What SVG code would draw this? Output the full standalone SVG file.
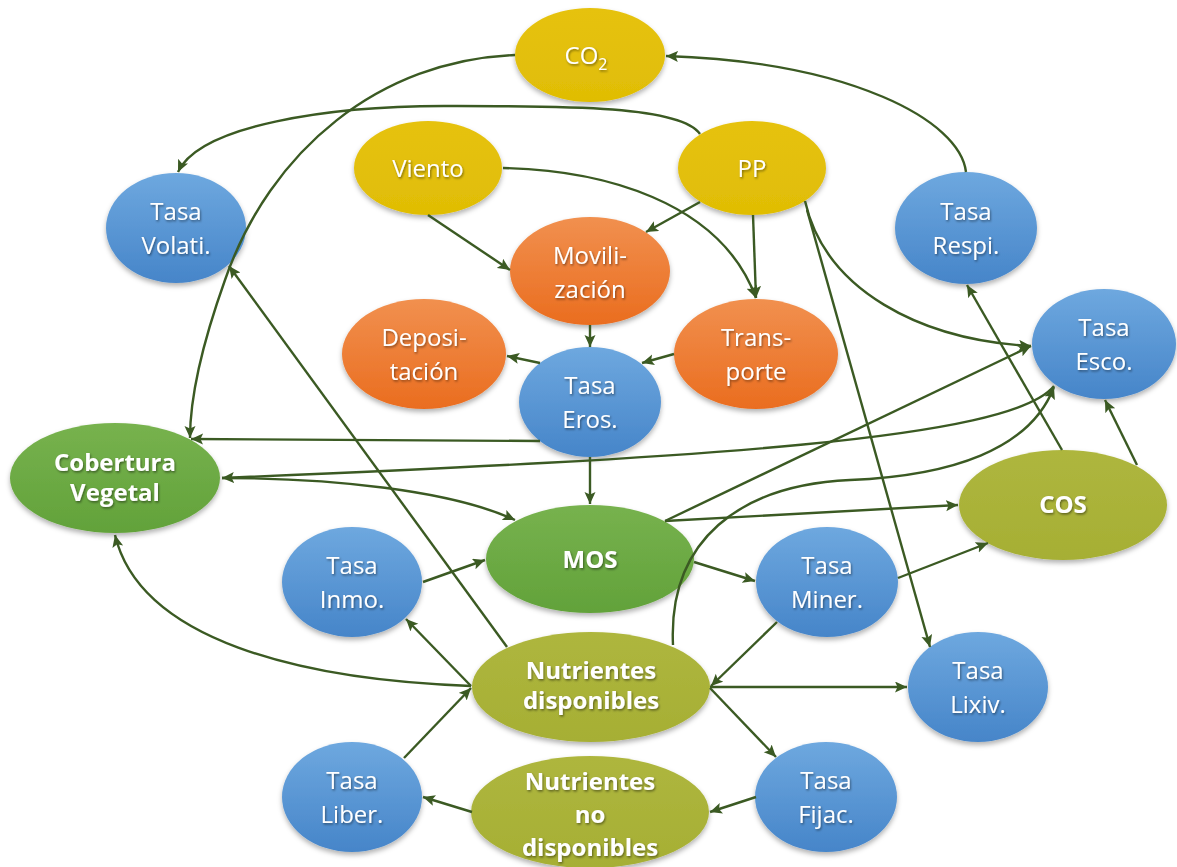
<svg xmlns="http://www.w3.org/2000/svg" width="1177" height="867" viewBox="0 0 1177 867">
<defs>
<style>
.edge{fill:none;stroke:#3b5a23;stroke-width:2.4;marker-end:url(#arr)}
.t{font-family:"Open Sans","Noto Sans",sans-serif;font-size:24px;fill:#ffffff;text-anchor:middle;filter:url(#ts)}
.b{font-weight:bold}
.n{filter:url(#sh)}
</style>
<linearGradient id="gBlue" x1="0" y1="0" x2="0" y2="1"><stop offset="0" stop-color="#6ea8df"/><stop offset="1" stop-color="#4685c9"/></linearGradient>
<linearGradient id="gOrange" x1="0" y1="0" x2="0" y2="1"><stop offset="0" stop-color="#f1904f"/><stop offset="1" stop-color="#ea6d1f"/></linearGradient>
<linearGradient id="gYellow" x1="0" y1="0" x2="0" y2="1"><stop offset="0" stop-color="#e6c20e"/><stop offset="1" stop-color="#e0bd05"/></linearGradient>
<linearGradient id="gGreen" x1="0" y1="0" x2="0" y2="1"><stop offset="0" stop-color="#77b24e"/><stop offset="1" stop-color="#62a23a"/></linearGradient>
<linearGradient id="gOlive" x1="0" y1="0" x2="0" y2="1"><stop offset="0" stop-color="#aeb63e"/><stop offset="1" stop-color="#a6af34"/></linearGradient>
<filter id="sh" x="-20%" y="-20%" width="140%" height="150%"><feDropShadow dx="0" dy="3" stdDeviation="2.5" flood-color="#000" flood-opacity="0.3"/></filter>
<filter id="ts" x="-10%" y="-30%" width="120%" height="160%"><feDropShadow dx="1" dy="1.5" stdDeviation="1" flood-color="#000" flood-opacity="0.45"/></filter>
<marker id="arr" markerUnits="userSpaceOnUse" markerWidth="15" markerHeight="12" refX="12" refY="5.5" orient="auto"><path d="M0,0 L12,5.5 L0,11 L2.5,5.5 z" fill="#3b5a23"/></marker>
</defs>
<rect width="1177" height="867" fill="#ffffff"/>

<g id="nodes">
<g id="co2"><ellipse class="n" cx="590" cy="55" rx="75" ry="47" fill="url(#gYellow)"/><text class="t" x="586" y="64">CO<tspan font-size="16" dy="6">2</tspan></text></g>
<g id="viento"><ellipse class="n" cx="428" cy="168" rx="74" ry="47" fill="url(#gYellow)"/><text class="t" x="428" y="177">Viento</text></g>
<g id="pp"><ellipse class="n" cx="752" cy="168" rx="74" ry="47" fill="url(#gYellow)"/><text class="t" x="752" y="177">PP</text></g>
<g id="volati"><ellipse class="n" cx="176" cy="228" rx="70" ry="55" fill="url(#gBlue)"/><text class="t" x="176" y="220">Tasa</text><text class="t" x="176" y="254">Volati.</text></g>
<g id="respi"><ellipse class="n" cx="966" cy="228" rx="71" ry="56" fill="url(#gBlue)"/><text class="t" x="966" y="220">Tasa</text><text class="t" x="966" y="254">Respi.</text></g>
<g id="movil"><ellipse class="n" cx="590" cy="271" rx="80" ry="54" fill="url(#gOrange)"/><text class="t" x="590" y="264">Movili-</text><text class="t" x="590" y="298">zación</text></g>
<g id="depos"><ellipse class="n" cx="424" cy="354" rx="82" ry="55" fill="url(#gOrange)"/><text class="t" x="424" y="346">Deposi-</text><text class="t" x="424" y="380">tación</text></g>
<g id="transp"><ellipse class="n" cx="756" cy="354" rx="82" ry="55" fill="url(#gOrange)"/><text class="t" x="756" y="346">Trans-</text><text class="t" x="756" y="380">porte</text></g>
<g id="eros"><ellipse class="n" cx="590" cy="402" rx="71" ry="55" fill="url(#gBlue)"/><text class="t" x="590" y="394">Tasa</text><text class="t" x="590" y="428">Eros.</text></g>
<g id="esco"><ellipse class="n" cx="1104" cy="344" rx="72" ry="55" fill="url(#gBlue)"/><text class="t" x="1104" y="336">Tasa</text><text class="t" x="1104" y="370">Esco.</text></g>
<g id="cobertura"><ellipse class="n" cx="115" cy="478" rx="105" ry="55" fill="url(#gGreen)"/><text class="t b" x="115" y="471">Cobertura</text><text class="t b" x="115" y="501">Vegetal</text></g>
<g id="cos"><ellipse class="n" cx="1063" cy="505" rx="104" ry="55" fill="url(#gOlive)"/><text class="t b" x="1063" y="513">COS</text></g>
<g id="mos"><ellipse class="n" cx="590" cy="559" rx="104" ry="54" fill="url(#gGreen)"/><text class="t b" x="590" y="568">MOS</text></g>
<g id="inmo"><ellipse class="n" cx="352" cy="582" rx="70" ry="55" fill="url(#gBlue)"/><text class="t" x="352" y="574">Tasa</text><text class="t" x="352" y="608">Inmo.</text></g>
<g id="miner"><ellipse class="n" cx="827" cy="582" rx="71" ry="55" fill="url(#gBlue)"/><text class="t" x="827" y="574">Tasa</text><text class="t" x="827" y="608">Miner.</text></g>
<g id="ndisp"><ellipse class="n" cx="591" cy="687" rx="119" ry="55" fill="url(#gOlive)"/><text class="t b" x="591" y="679">Nutrientes</text><text class="t b" x="591" y="709">disponibles</text></g>
<g id="lixiv"><ellipse class="n" cx="978" cy="687" rx="70" ry="55" fill="url(#gBlue)"/><text class="t" x="978" y="679">Tasa</text><text class="t" x="978" y="713">Lixiv.</text></g>
<g id="liber"><ellipse class="n" cx="352" cy="797" rx="70" ry="55" fill="url(#gBlue)"/><text class="t" x="352" y="789">Tasa</text><text class="t" x="352" y="823">Liber.</text></g>
<g id="nnodisp"><ellipse class="n" cx="590" cy="812" rx="119" ry="56" fill="url(#gOlive)"/><text class="t b" x="590" y="790">Nutrientes</text><text class="t b" x="590" y="823">no</text><text class="t b" x="590" y="856">disponibles</text></g>
<g id="fijac"><ellipse class="n" cx="826" cy="797" rx="71" ry="55" fill="url(#gBlue)"/><text class="t" x="826" y="789">Tasa</text><text class="t" x="826" y="823">Fijac.</text></g>
</g>

<g id="connectors">
<path class="edge" d="M966,172 C960,120 850,62 666,56"/>
<path class="edge" d="M515,55 C380,60 270,150 225,280 C200,350 190,400 190,438"/>
<path class="edge" d="M700,134 C680,105 560,106 444,106 C330,106 200,125 178,172"/>
<path class="edge" d="M428,215 L510,270"/>
<path class="edge" d="M503,168 C600,170 720,200 756,298"/>
<path class="edge" d="M700,202 L646,232"/>
<path class="edge" d="M753,215 L756,298"/>
<path class="edge" d="M805,201 C825,290 920,340 1031,346"/>
<path class="edge" d="M807,210 L930,647"/>
<path class="edge" d="M590,325 L590,347"/>
<path class="edge" d="M540,363 L507,356"/>
<path class="edge" d="M674,354 L642,363"/>
<path class="edge" d="M590,457 L590,504"/>
<path class="edge" d="M540,441 L191,439"/>
<path class="edge" d="M1054,386 C1010,440 700,458 222,478"/>
<path class="edge" d="M222,478 C330,478 450,490 515,520"/>
<path class="edge" d="M665,521 L1031,346"/>
<path class="edge" d="M665,521 L958,505"/>
<path class="edge" d="M694,562 L755,581"/>
<path class="edge" d="M423,582 L485,560"/>
<path class="edge" d="M898,578 L988,543"/>
<path class="edge" d="M777,622 L711,686"/>
<path class="edge" d="M1062,450 L967,285"/>
<path class="edge" d="M1137,465 L1105,400"/>
<path class="edge" d="M673,645 C668,540 740,485 850,480 C950,476 1030,450 1054,387"/>
<path class="edge" d="M507,647 L229,266"/>
<path class="edge" d="M471,686 C300,680 140,640 115,535"/>
<path class="edge" d="M471,686 L406,619"/>
<path class="edge" d="M404,758 L471,688"/>
<path class="edge" d="M710,687 L907,687"/>
<path class="edge" d="M710,688 L776,757"/>
<path class="edge" d="M756,797 L710,812"/>
<path class="edge" d="M472,812 L423,797"/>
</g>
</svg>
